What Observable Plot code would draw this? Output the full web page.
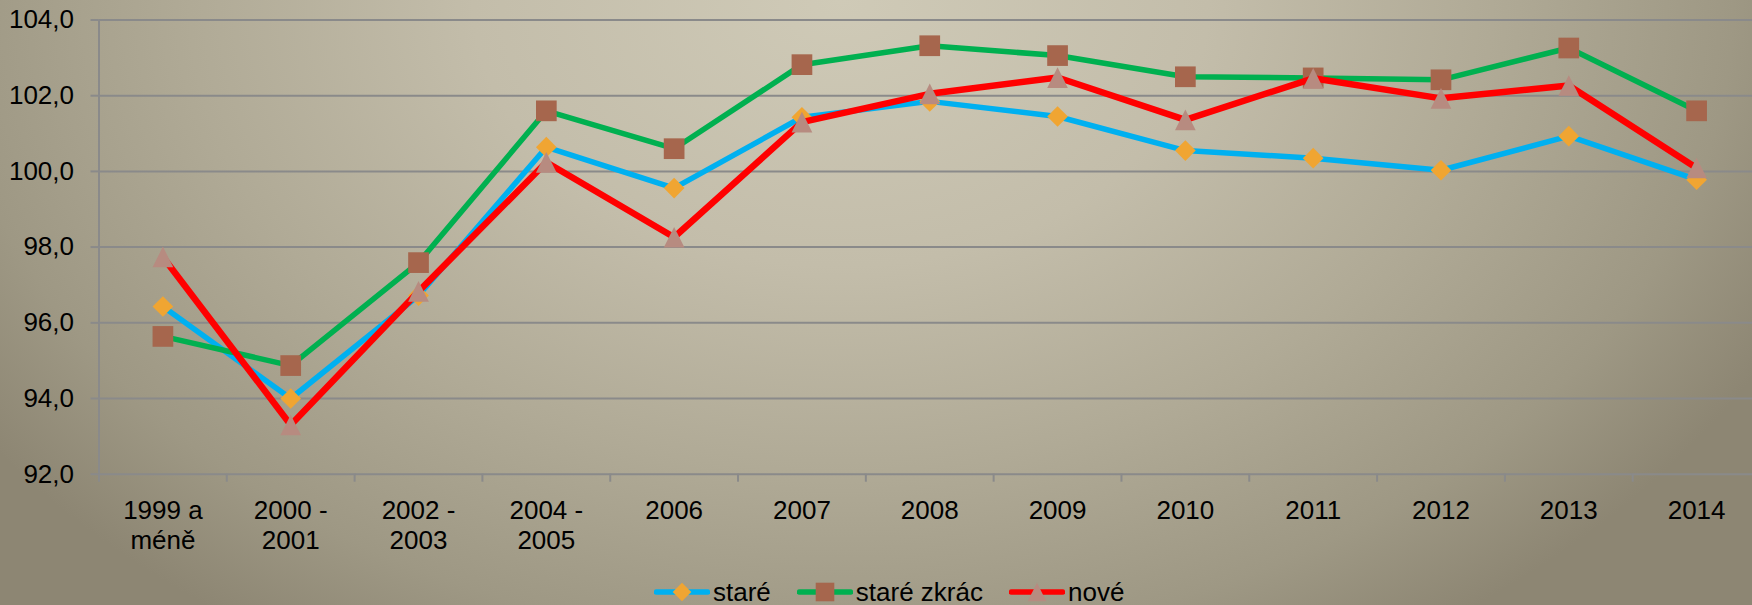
<!DOCTYPE html>
<html>
<head>
<meta charset="utf-8">
<script src="https://cdn.jsdelivr.net/npm/d3@7"></script>
<script src="https://cdn.jsdelivr.net/npm/@observablehq/plot@0.6"></script>
<style>
  html, body { margin: 0; padding: 0; }
  body {
    width: 1752px; height: 605px; overflow: hidden; position: relative;
    font-family: "Liberation Sans", Arial, sans-serif;
    background: radial-gradient(ellipse 1050px 760px at 48% 0%, #cfcab7 0%, #c3bdaa 35%, #b0aa96 62%, #9e9884 85%, #8d8673 100%);
  }
  #chart { position: absolute; left: 0; top: 0; }
  #legend { position: absolute; left: 654px; top: 576px; height: 32px; display: flex; align-items: center; font-size: 26px; color: #000; }
  .item { display: flex; align-items: center; margin-right: 26px; }
  .item svg { display: block; margin-right: 3px; }
</style>
</head>
<body>
<div id="chart"></div>
<div id="legend"></div>
<script>
const categories = ["1999 a\nméně", "2000 -\n2001", "2002 -\n2003", "2004 -\n2005", "2006", "2007", "2008", "2009", "2010", "2011", "2012", "2013", "2014"];
const stare      = [96.43, 94.00, 96.72, 100.64, 99.56, 101.43, 101.85, 101.45, 100.55, 100.35, 100.03, 100.93, 99.78];
const stareZkrac = [95.64, 94.87, 97.59, 101.60, 100.60, 102.82, 103.32, 103.06, 102.50, 102.47, 102.42, 103.26, 101.60];
const nove       = [97.74, 93.30, 96.83, 100.24, 98.26, 101.30, 102.05, 102.48, 101.36, 102.46, 101.93, 102.27, 100.09];
const seriesNames = ["staré", "staré zkrác", "nové"];
const yTicks = [92, 94, 96, 98, 100, 102, 104];

const lineColors = ["#00b0f0", "#00b050", "#ff0000"];
const markerColors = ["#f0a532", "#a6664d", "#b78b80"];
const gridColor = "#8a8a8a";

const rad = size => Math.sqrt(size / Math.PI);
const diamondSym = { draw(c, size) { const r = rad(size); c.moveTo(0, -r); c.lineTo(r, 0); c.lineTo(0, r); c.lineTo(-r, 0); c.closePath(); } };
const squareSym  = { draw(c, size) { const r = rad(size); c.rect(-r, -r, 2 * r, 2 * r); } };
const triSym     = { draw(c, size) { const r = rad(size); c.moveTo(0, -r); c.lineTo(r, r); c.lineTo(-r, r); c.closePath(); } };
const symbols = [diamondSym, squareSym, triSym];
const series = [stare, stareZkrac, nove];
const lineWidths = [5.5, 5.5, 6.5];

const idx = categories.map((_, i) => i);
const boundaries = d3.range(-0.5, categories.length, 1);

const marks = [
  Plot.gridY(yTicks, { stroke: gridColor, strokeOpacity: 1, strokeWidth: 2 }),
  Plot.ruleX([-0.5], { stroke: gridColor, strokeWidth: 2 }),
  Plot.axisY({ ticks: yTicks, tickSize: 8, tickPadding: 17, stroke: gridColor, strokeWidth: 2, strokeOpacity: 1, fill: "#000",
    tickFormat: d => d.toFixed(1).replace(".", ","), fontSize: 26 }),
  Plot.axisX({ ticks: boundaries, tickSize: 8, stroke: gridColor, strokeWidth: 2, strokeOpacity: 1, tickFormat: () => "" }),
  Plot.axisX({ ticks: idx, tickSize: 0, tickPadding: 24, fill: "#000", fontSize: 26, lineHeight: 1.15,
    tickFormat: i => categories[i] })
];
series.forEach((vals, s) => {
  marks.push(Plot.line(vals, { x: (d, i) => i, y: d => d, stroke: lineColors[s], strokeWidth: lineWidths[s], strokeLinejoin: "round", strokeLinecap: "round" }));
  marks.push(Plot.dot(vals, { x: (d, i) => i, y: d => d, symbol: symbols[s], r: 10.35, fill: markerColors[s], stroke: "none" }));
});

const chart = Plot.plot({
  width: 1752, height: 560,
  marginLeft: 98.5, marginRight: -8, marginTop: 19.5, marginBottom: 86.3,
  style: { background: "transparent", fontFamily: "'Liberation Sans', Arial, sans-serif", fontSize: "26px", color: "#000", overflow: "visible" },
  x: { domain: [-0.5, categories.length - 0.5], axis: null },
  y: { domain: [92, 104], axis: null },
  marks
});
document.getElementById("chart").appendChild(chart);

// legend
const legend = document.getElementById("legend");
seriesNames.forEach((name, s) => {
  const item = document.createElement("div");
  item.className = "item";
  const svg = d3.create("svg").attr("width", 56).attr("height", 32);
  svg.append("line").attr("x1", 2.5).attr("x2", 53.5).attr("y1", 16).attr("y2", 16)
    .attr("stroke", lineColors[s]).attr("stroke-width", 5.5).attr("stroke-linecap", "round");
  const p = d3.path();
  symbols[s].draw(p, Math.PI * 9.3 * 9.3);
  svg.append("path").attr("d", p.toString()).attr("transform", "translate(28,16)").attr("fill", markerColors[s]);
  item.appendChild(svg.node());
  const t = document.createElement("span");
  t.textContent = name;
  item.appendChild(t);
  legend.appendChild(item);
});
</script>
</body>
</html>
